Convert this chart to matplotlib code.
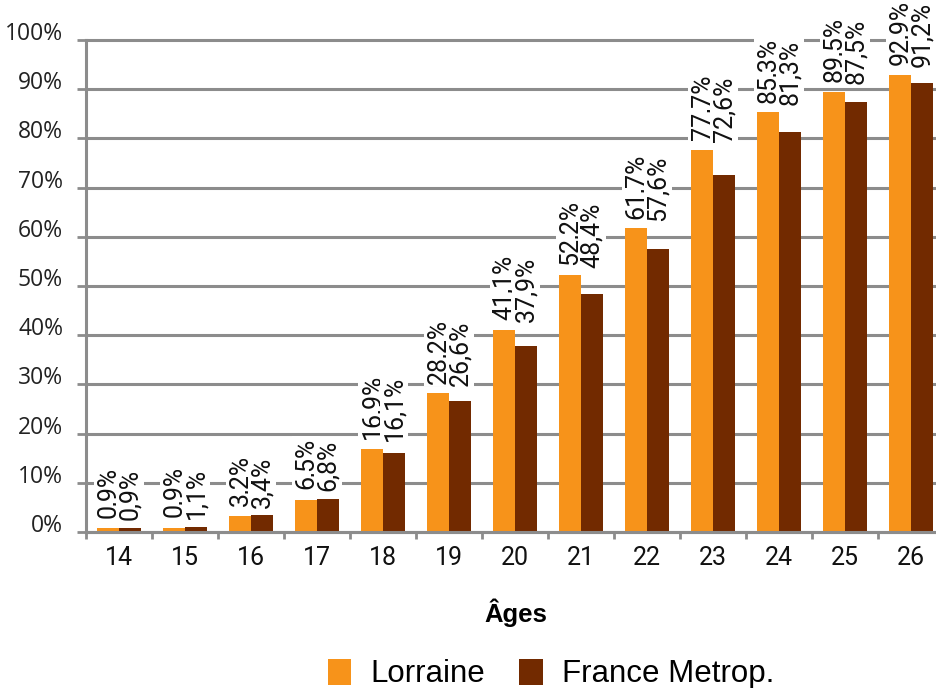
import matplotlib
matplotlib.use("Agg")
import matplotlib.pyplot as plt
from matplotlib import font_manager
import numpy as np

# Data
ages = ["14", "15", "16", "17", "18", "19", "20", "21", "22", "23", "24", "25", "26"]
lorraine = [0.9, 0.9, 3.2, 6.5, 16.9, 28.2, 41.1, 52.2, 61.7, 77.7, 85.3, 89.5, 92.9]
france = [0.9, 1.1, 3.4, 6.8, 16.1, 26.6, 37.9, 48.4, 57.6, 72.6, 81.3, 87.5, 91.2]
series_names = ["Lorraine", "France Metrop."]
y_ticks = [0, 10, 20, 30, 40, 50, 60, 70, 80, 90, 100]

ORANGE = "#F7931A"
BROWN = "#722A00"
GRID = "#8C8C8C"

installed = {f.name for f in font_manager.fontManager.ttflist}

def pick(*names):
    for n in names:
        if n in installed:
            return n
    return "DejaVu Sans"

NARROW = pick("Liberation Sans Narrow", "Liberation Sans", "Arial")
narrow_is_real = NARROW == "Liberation Sans Narrow"
LABEL_FONT = NARROW if narrow_is_real else pick("Roboto", "Liberation Sans")
LABEL_SIZE = 19 if narrow_is_real else 18
LEGEND_SIZE = 24 if narrow_is_real else 22.5
TITLE_SIZE = 19 if narrow_is_real else 18.5

W, H = 936, 688
fig = plt.figure(figsize=(W / 100, H / 100), dpi=100)
ax = fig.add_axes([86 / W, (H - 532) / H, 858 / W, 492 / H])

x = np.arange(len(ages))
bw = 1 / 3
b1 = ax.bar(x - bw / 2, lorraine, width=bw, color=ORANGE, zorder=2, label=series_names[0])
b2 = ax.bar(x + bw / 2, france, width=bw, color=BROWN, zorder=2, label=series_names[1])

def fmt(v):
    return f"{v:.1f}".replace(".", ",") + "%"

# Both labels of an age group sit above the taller bar of the pair
for i in range(len(ages)):
    top = max(lorraine[i], france[i])
    for rect, v, gap in ((b1[i], lorraine[i], 7.0), (b2[i], france[i], 5.5)):
        ax.annotate(fmt(v), (rect.get_x() + rect.get_width() / 2, top),
                    xytext=(0, gap), textcoords="offset points",
                    rotation=90, ha="center", va="bottom",
                    fontsize=LABEL_SIZE, family=LABEL_FONT, color="#111111",
                    bbox=dict(boxstyle="square,pad=0.08", fc="white", ec="none"),
                    zorder=5, annotation_clip=False)

ax.set_xlim(-0.5, len(ages) - 0.5)
ax.set_ylim(0, 100)

# y axis
ax.set_yticks(y_ticks)
ax.set_yticklabels([f"{t}%" for t in y_ticks], fontsize=16.5, family="Open Sans", color="#222222")
for lab in ax.get_yticklabels():
    lab.set_va("baseline")
ax.tick_params(axis="y", length=6.5, width=2, color=GRID, pad=10)
for t in y_ticks:
    ax.axhline(t, color=GRID, lw=2.2, zorder=1, clip_on=False)

# x axis: labels at centres, tick marks at category boundaries
ax.set_xticks(x)
ax.set_xticklabels(ages, fontsize=18, family="Roboto", color="#111111")
ax.tick_params(axis="x", which="major", length=0, pad=10)
ax.set_xticks(np.arange(len(ages) + 1) - 0.5, minor=True)
ax.tick_params(axis="x", which="minor", length=5, width=2, color=GRID)

for side in ("top", "right"):
    ax.spines[side].set_visible(False)
ax.spines["left"].set_color(GRID)
ax.spines["left"].set_linewidth(2.2)
ax.spines["bottom"].set_color(GRID)
ax.spines["bottom"].set_linewidth(2.2)

fig.text(516 / W, 1 - 613 / H, "Âges", ha="center", va="center",
         fontsize=TITLE_SIZE, fontweight="bold", family=NARROW, color="#000000")

fig.legend(handles=[b1, b2], labels=series_names, loc="center left",
           bbox_to_anchor=(328 / W, 1 - 674 / H), ncol=2, frameon=False,
           prop={"family": NARROW, "size": LEGEND_SIZE}, handlelength=0.75, handleheight=0.9,
           handletextpad=0.6, columnspacing=1.1, borderpad=0, borderaxespad=0)

fig.savefig("out.png", dpi=100)
